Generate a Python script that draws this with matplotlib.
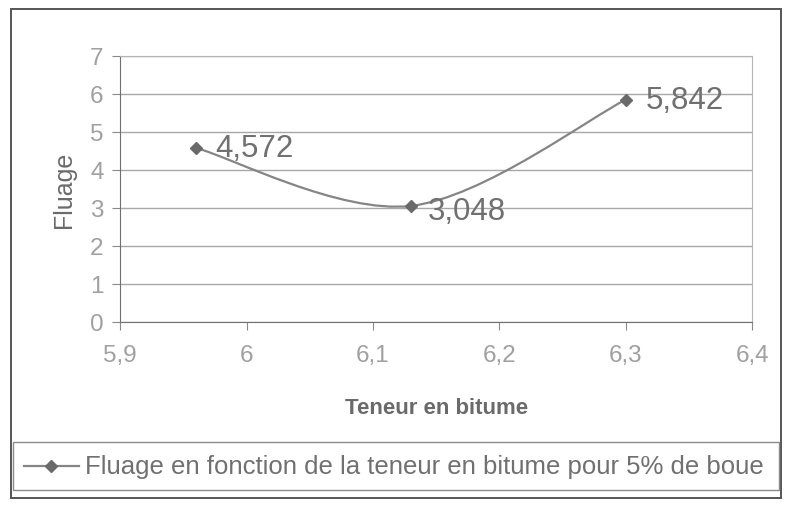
import matplotlib.pyplot as plt
from matplotlib.path import Path
from matplotlib.patches import PathPatch, Rectangle
from matplotlib.lines import Line2D
from matplotlib.ticker import FuncFormatter, MultipleLocator

plt.rcParams['font.family'] = ['Liberation Sans', 'DejaVu Sans']

# bitumen content (%) and measured creep
teneur = [5.96, 6.13, 6.30]
fluage = [4.572, 3.048, 5.842]
labels = ["4,572", "3,048", "5,842"]
serie = "Fluage en fonction de la teneur en bitume pour 5% de boue"

line_col = "#858585"
mark_col = "#6a6a6a"


def smooth_path(xs, ys):
    # Excel-style smoothed line: cubic Bezier segments with Catmull-Rom handles
    n = len(xs)
    verts = [(xs[0], ys[0])]
    codes = [Path.MOVETO]
    for i in range(n - 1):
        x0, y0 = (xs[i - 1], ys[i - 1]) if i > 0 else (xs[i], ys[i])
        x3, y3 = (xs[i + 2], ys[i + 2]) if i + 2 < n else (xs[i + 1], ys[i + 1])
        c1 = (xs[i] + (xs[i + 1] - x0) / 6, ys[i] + (ys[i + 1] - y0) / 6)
        c2 = (xs[i + 1] - (x3 - xs[i]) / 6, ys[i + 1] - (y3 - ys[i]) / 6)
        verts += [c1, c2, (xs[i + 1], ys[i + 1])]
        codes += [Path.CURVE4] * 3
    return Path(verts, codes)


fig = plt.figure(figsize=(7.86, 5.10), dpi=100)
ax = fig.add_axes([0.153, 0.367, 0.804, 0.522])

ax.set_xlim(5.9, 6.4)
ax.set_ylim(0, 7)
ax.xaxis.set_major_locator(MultipleLocator(0.1))
ax.yaxis.set_major_locator(MultipleLocator(1))
comma = FuncFormatter(lambda v, p: f"{v:g}".replace(".", ","))
ax.xaxis.set_major_formatter(comma)
ax.yaxis.set_major_formatter(comma)

ax.grid(axis="y", color="#a8a8a8", linewidth=1.0)
ax.set_axisbelow(True)
for side in ("top", "right"):
    ax.spines[side].set_color("#b5b5b5")
for side in ("left", "bottom"):
    ax.spines[side].set_color("#707070")
ax.tick_params(colors="#8a8a8a", labelcolor="#a0a0a0", labelsize=17.5,
               length=6, direction="out", pad=6)
ax.tick_params(axis="x", pad=10)

ax.add_patch(PathPatch(smooth_path(teneur, fluage), fill=False,
                       edgecolor=line_col, linewidth=1.6))
ax.plot(teneur, fluage, linestyle="none", marker="D", markersize=6,
        color=mark_col)

offsets = [(14, 0), (12, -4), (14, 0)]
for x, y, t, off in zip(teneur, fluage, labels, offsets):
    ax.annotate(t, (x, y), xytext=off, textcoords="offset points",
                ha="left", va="center", fontsize=22.5, color="#707070")

ax.set_ylabel("Fluage", fontsize=18, color="#6a6a6a", labelpad=10)
ax.set_xlabel("Teneur en bitume", fontsize=16, fontweight="bold",
              color="#6a6a6a", labelpad=22)

# outer chart frame and legend box
fig.add_artist(Rectangle((0.014, 0.022), 0.98, 0.958, transform=fig.transFigure,
                         fill=False, edgecolor="#555555", linewidth=1.4))
fig.add_artist(Rectangle((0.017, 0.037), 0.974, 0.094, transform=fig.transFigure,
                         fill=False, edgecolor="#8a8a8a", linewidth=1.0))
fig.add_artist(Line2D([0.03, 0.1], [0.084, 0.084], transform=fig.transFigure,
                      color=line_col, linewidth=1.6))
fig.add_artist(Line2D([0.065], [0.084], transform=fig.transFigure, marker="D",
                      markersize=6, color=mark_col))
fig.text(0.108, 0.084, serie, fontsize=18.5, color="#707070", va="center", ha="left")

fig.savefig("out.png", dpi=100)
